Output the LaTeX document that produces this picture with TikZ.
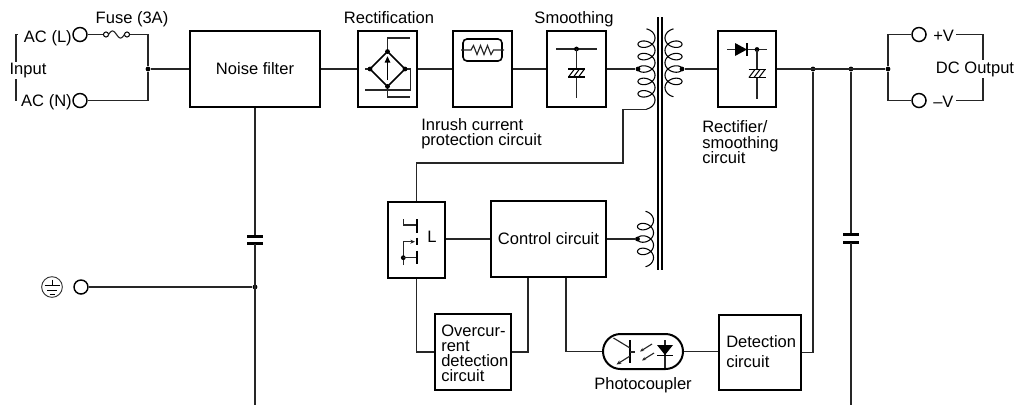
\documentclass[tikz,border=0pt]{standalone}
\usepackage{fontspec}
\setmainfont{Liberation Sans}
\usetikzlibrary{arrows.meta,shapes.misc,calc}
\newcommand\mylbf{\fontsize{12.4pt}{14pt}\selectfont}
\begin{document}
\begin{tikzpicture}[x=0.75pt,y=-0.75pt,
  wire/.style={line width=0.85pt, draw=black!85},
  blk/.style={draw=black, line width=1.5pt, fill=white, inner sep=0pt, font=\mylbf},
  term/.style={circle, draw=black, line width=1.1pt, fill=white, minimum size=10.5pt, inner sep=0pt},
  dot/.style={circle, fill=black, inner sep=0pt, minimum size=3.6pt},
  lbl/.style={inner sep=0pt, font=\mylbf},
  plate/.style={line width=1.8pt},
  sym/.style={line width=1.3pt},
  coil/.style={line width=0.8pt},
  ecap/.pic={
    \draw[line width=0.8pt] (-8.5,-4) -- (8.5,-4);
    \draw[line width=0.8pt] (-8.5,4) -- (8.5,4);
    \foreach \u in {-5,0,5} \draw[line width=0.8pt] (\u+3,-4) -- (\u-3,4);
  }
]
\useasboundingbox (0,0) rectangle (1018,405);

% ---------- blocks ----------
\node[blk, minimum width=97.5pt, minimum height=57pt] (nf) at (255,69) {Noise filter};
\node[blk, minimum width=44.25pt, minimum height=57pt] (rect) at (387.5,69) {};
\node[blk, minimum width=44.25pt, minimum height=57pt] (inr) at (482.5,69) {};
\node[blk, minimum width=44.25pt, minimum height=57pt] (smo) at (576.5,69) {};
\node[blk, minimum width=43.5pt, minimum height=57pt] (rs) at (747,69) {};
\node[blk, minimum width=42.75pt, minimum height=57pt] (sw) at (416.5,240) {};
\node[blk, minimum width=86.25pt, minimum height=57pt] (ctl) at (548.5,239) {Control circuit};
\node[blk, minimum width=57pt, minimum height=57pt] (oc) at (473,352) {};
\node[blk, minimum width=61.5pt, minimum height=56.25pt] (det) at (760,352.5) {};
\node[blk, rounded rectangle, minimum width=60pt, minimum height=26.25pt] (pc) at (643,351.5) {};

% ---------- terminals ----------
\node[term] (tl) at (80,34.5) {};
\node[term] (tn) at (80,100.5) {};
\node[term] (tg) at (81,287) {};
\node[term] (tp) at (919,34.5) {};
\node[term] (tm) at (919,100.5) {};
\node[circle, draw=black, line width=0.75pt, minimum size=3.8pt, inner sep=0pt] (f1) at (106,34.5) {};
\node[circle, draw=black, line width=0.75pt, minimum size=3.8pt, inner sep=0pt] (f2) at (127,34.5) {};

% ---------- junction dots ----------
\node[dot] (jin) at (148,69) {};
\node[dot] (pd) at (638,69) {};
\node[dot] (sd) at (682,69) {};
\node[dot] (ad) at (637.5,239) {};
\node[dot] (o1) at (813,69) {};
\node[dot] (o2) at (851,69) {};
\node[dot] (o3) at (888,69) {};
\node[dot] (gj) at (255,287) {};

% ---------- labels ----------
\node[lbl, anchor=base] (lfuse) at (132,23) {Fuse (3A)};
\node[lbl, anchor=base east] (acl) at (72,42.5) {AC (L)};
\node[lbl, anchor=base east] (acn) at (72,106) {AC (N)};
\node[lbl, anchor=base] (lrect) at (389,23) {Rectification};
\node[lbl, anchor=base] (lsmo) at (574,23) {Smoothing};
\node[lbl, anchor=base west] (linr1) at (421,130) {Inrush current};
\node[lbl, anchor=base west] (linr2) at (421,145) {protection circuit};
\node[lbl, anchor=base west] (lrs1) at (702,132.5) {Rectifier/};
\node[lbl, anchor=base west] (lrs2) at (702,148) {smoothing};
\node[lbl, anchor=base west] (lrs3) at (702,163.3) {circuit};
\node[lbl, anchor=west] (pv) at (933,35.5) {+V};
\node[lbl, anchor=west] (mv) at (933,101.5) {–V};
\node[lbl, anchor=base west] (loc1) at (441,336.7) {Overcur-};
\node[lbl, anchor=base west] (loc2) at (441,351.7) {rent};
\node[lbl, anchor=base west] (loc3) at (441,366.7) {detection};
\node[lbl, anchor=base west] (loc4) at (441,381.7) {circuit};
\node[lbl, anchor=base west] (ldet1) at (726,347) {Detection};
\node[lbl, anchor=base west] (ldet2) at (726,367) {circuit};
\node[lbl, anchor=base] (lpc) at (643,389) {Photocoupler};
\node[lbl, anchor=base] (lL) at (432,242) {L};

% ---------- input side ----------
\draw[wire] (tl.east) -- (f1.west);
\draw[wire] plot[domain=0:1, samples=40] ({108.5+16*\x},{34.5-3.5*sin(360*\x)});
\draw[wire] (f2.east) -| (jin) |- (tn.east);
\draw[wire] ([xshift=-4.5pt]acl.west |- tl) -| (16,69) |- ([xshift=-4.5pt]acn.west |- tn);
\node[lbl, anchor=base west, fill=white, inner sep=1pt] (inp) at (8,74.5) {Input};
\draw[wire] (jin) -- (nf.west);
\draw[wire] (nf.east) -- (rect.west);
\draw[wire] (rect.east) -- (inr.west);
\draw[wire] (inr.east) -- (smo.west);
\draw[wire] (smo.east) -- (pd);

% ---------- noise filter capacitor and ground ----------
\draw[wire] (nf.south) -- (255,236.5);
\draw[plate] (247,236.5) -- (263,236.5);
\draw[plate] (247,243.5) -- (263,243.5);
\draw[wire] (255,243.5) -- (255,405);
\draw[wire] (tg.east) -- (gj);
\node[circle, draw=black!80, line width=0.7pt, minimum size=15.5pt, inner sep=0pt] (gs) at (52,287) {};
\draw[line width=0.7pt] (52,279.5) -- (52,285.5);
\draw[line width=0.7pt] (44.5,285.5) -- (59.5,285.5);
\draw[line width=0.7pt] (47,290) -- (57,290);
\draw[line width=0.7pt] (49.5,294) -- (54.5,294);

% ---------- bridge rectifier ----------
\draw[wire] (387.5,51.5) -- (387.5,38) -- (410,38);
\draw[wire] (405,69) -- (410.5,69) -- (410.5,90) -- (365,90);
\draw[wire] (365,69) -- (370,69);
\draw[wire] (387.5,86.5) -- (387.5,97) -- (410,97);
\draw[sym] (370,69) -- (387.5,51.5) -- (405,69) -- (387.5,86.5) -- cycle;
\foreach \p in {(370,69),(387.5,51.5),(405,69),(387.5,86.5)} \node[dot] at \p {};
\draw[line width=1.3pt, -{Triangle[length=5pt,width=4pt]}] (387.5,80) -- (387.5,56);

% ---------- inrush resistor ----------
\draw[line width=1.2pt, rounded corners=3pt] (463,39) rectangle (502,61);
\draw[wire] (461,50) -- (471,50) -- (473.5,45.5) -- (477,54.5) -- (480.5,45.5) -- (484,54.5) -- (487.5,45.5) -- (491,54.5) -- (493.5,50) -- (504,50);

% ---------- smoothing capacitor ----------
\draw[wire] (556,49) -- (597,49);
\node[dot] at (576.5,49) {};
\draw[wire] (576.5,49) -- (576.5,69);
\draw[wire] (576.5,77) -- (576.5,98);
\pic at (576.5,73) {ecap};

% ---------- transformer ----------
\draw[line width=0.8pt] (658,17) -- (658,270);
\draw[line width=0.8pt] (662,17) -- (662,270);
\draw[coil] plot[domain=-4.712:29.845, samples=320] ({646.5-8.5*cos(\x r)},{44.2+1.974*\x-6*sin(\x r)});
\draw[coil] plot[domain=-4.712:23.562, samples=260] ({673.5+8.5*cos(\x r)},{44.2+1.974*\x-6*sin(\x r)});
\draw[coil] plot[domain=-4.712:17.279, samples=200] ({645.5-8*cos(\x r)},{226.6+1.974*\x-6*sin(\x r)});
\coordinate (pe) at (646.5,109.1);
\draw[wire] (pe) -| (623,163) -| (sw.north);
\draw[wire] (sd) -- (rs.west);

% ---------- rectifier / smoothing ----------
\draw[wire] (727,49.5) -- (767,49.5);
\fill (735,43) -- (747,49.5) -- (735,56) -- cycle;
\draw[line width=1.3pt] (747,43) -- (747,56);
\node[dot] at (757,49.5) {};
\draw[wire] (757,49.5) -- (757,69.5);
\draw[wire] (757,77.5) -- (757,99);
\pic at (757,73.5) {ecap};

% ---------- output ----------
\draw[wire] (rs.east) -- (o3);
\draw[wire] (tp.west) -| (o3) |- (tm.west);
\draw[wire] ([xshift=1.5pt]pv.east |- tp) -- (983,34.5) -- (983,100.5) -- ([xshift=1.5pt]mv.east |- tm);
\node[lbl, fill=white, inner sep=1pt] (ldc) at (975,69) {DC Output};
\draw[wire] (o2) -- (851,234.5);
\draw[plate] (843,234.5) -- (859,234.5);
\draw[plate] (843,242.5) -- (859,242.5);
\draw[wire] (851,242.5) -- (851,405);
\draw[wire] (o1) |- (det.east);

% ---------- switch ----------
\draw[wire] (403.3,219.3) -- (403.3,225) -- (416,225);
\draw[line width=1.4pt] (417,219) -- (417,233);
\draw[line width=1.4pt] (417,237.5) -- (417,245);
\draw[line width=1.4pt] (417,250.5) -- (417,264);
\draw[wire, -{Stealth[length=3.5pt,width=3pt]}] (403.3,265) -- (403.3,241.7) -- (415,241.7);
\node[dot] at (403.3,257.7) {};
\draw[wire] (403.3,257.7) -- (416,257.7);

% ---------- control connections ----------
\draw[wire] (sw.east |- ctl.west) -- (ctl.west);
\draw[wire] (ctl.east) -- (ad);
\draw[wire] ($(ctl.south west)+(38,0)$) |- (oc.east);
\draw[wire] ($(ctl.south west)+(76,0)$) |- (pc.west);
\draw[wire] (sw.south) |- (oc.west);
\draw[wire] (pc.east) -- (det.west |- pc.east);

% ---------- photocoupler interior ----------
\draw[line width=1.1pt] (630,340) -- (630,363);
\draw[wire] (613.5,338) -- (630,348);
\draw[wire, -{Stealth[length=3.5pt,width=3pt]}] (630,356) -- (616.5,364.5);
\draw[wire] (630,352) -- (635,352);
\draw[wire, -{Stealth[length=3pt,width=2.5pt]}] (652,344) -- (640,351.5);
\draw[wire, -{Stealth[length=3pt,width=2.5pt]}] (654,353) -- (642,360.5);
\draw[wire] (665,340) -- (665,368);
\fill (657,345) -- (673,345) -- (665,355) -- cycle;
\draw[line width=1.1pt] (657,355.5) -- (673,355.5);
\end{tikzpicture}
\end{document}
